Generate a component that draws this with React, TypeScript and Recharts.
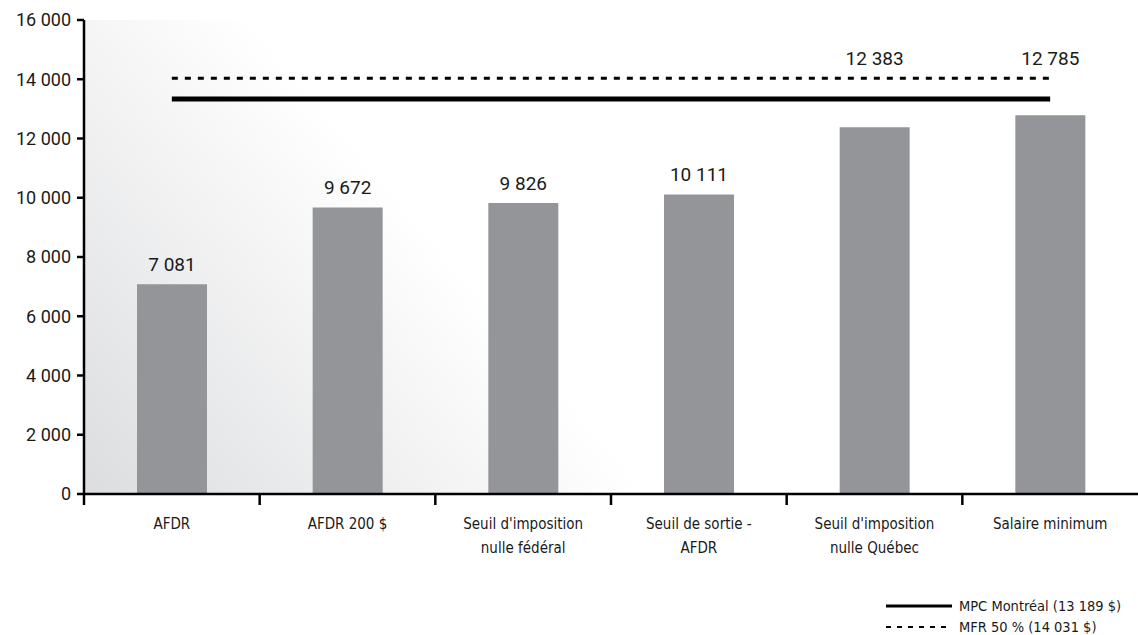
import React from "react";
import {
	ComposedChart,
	Bar,
	Line,
	XAxis,
	YAxis,
	CartesianGrid,
	LabelList,
} from "recharts";

const CATEGORIES = [
	["AFDR"],
	["AFDR 200 $"],
	["Seuil d'imposition", "nulle fédéral"],
	["Seuil de sortie -", "AFDR"],
	["Seuil d'imposition", "nulle Québec"],
	["Salaire minimum"],
];
const INCOME = [7081, 9672, 9826, 10111, 12383, 12785];
const MPC = [13330, 13330, 13330, 13330, 13330, 13330];
const MFR = [14031, 14031, 14031, 14031, 14031, 14031];
const Y_TICKS = [0, 2000, 4000, 6000, 8000, 10000, 12000, 14000, 16000];
// bars whose label sits above the reference lines, at this level
const LABEL_TOP = 14470;

const LEGEND = [
	{ label: "MPC Montréal (13 189 $)", dash: undefined, width: 3 },
	{ label: "MFR 50 % (14 031 $)", dash: "5 6", width: 2 },
];

const W = 1138;
const H = 635;
const Y_W = 84;
const STEP = (W - Y_W) / CATEGORIES.length;

const narrow = "'Liberation Sans Narrow', 'DejaVu Sans Condensed', 'Open Sans', sans-serif";
const numFont = "Roboto, 'Liberation Sans', sans-serif";

const data = CATEGORIES.map((c, i) => ({
	name: c.join(" "),
	lines: c,
	income: INCOME[i],
	mpc: MPC[i],
	mfr: MFR[i],
}));

function fmt(v: number) {
	return String(v).replace(/\B(?=(\d{3})+(?!\d))/g, " ");
}

function XTick(props: any) {
	const { x, y, payload, index } = props;
	const lines = data[index]?.lines ?? [payload.value];
	return (
		<g>
			<line x1={x - STEP / 2} x2={x - STEP / 2} y1={y - 8} y2={y + 3} stroke="#000" strokeWidth={2.5} />
			{lines.map((t: string, i: number) => (
				<text
					key={i}
					x={x}
					y={y + 27 + i * 24}
					textAnchor="middle"
					fontFamily={narrow}
					fontSize={15}
					fill="#1a1a1a"
				>
					{t}
				</text>
			))}
		</g>
	);
}

function ValueLabel(props: any) {
	const { x, y, width, height, value } = props;
	let ty = y - 13;
	if (value > 12000) {
		const perUnit = height / value;
		ty = y + height - LABEL_TOP * perUnit;
	}
	return (
		<text
			x={x + width / 2}
			y={ty}
			textAnchor="middle"
			fontFamily={numFont}
			fontSize={19}
			fill="#1a1a1a"
		>
			{fmt(value)}
		</text>
	);
}

export default function App() {
	return (
		<div style={{ position: "absolute", left: 0, top: 0, width: W, height: H, background: "#fff" }}>
			<ComposedChart
				width={W}
				height={H}
				data={data}
				margin={{ top: 20, right: 0, left: 0, bottom: 0 }}
				barCategoryGap={0}
			>
				<defs>
					<linearGradient id="bgGrad" gradientUnits="userSpaceOnUse" x1={84} y1={494} x2={414} y2={215}>
						<stop offset="0%" stopColor="#dcdddf" />
						<stop offset="100%" stopColor="#ffffff" />
					</linearGradient>
				</defs>
				<CartesianGrid horizontal={false} vertical={false} fill="url(#bgGrad)" stroke="none" />
				<XAxis
					dataKey="name"
					height={141}
					axisLine={{ stroke: "#000", strokeWidth: 2.5 }}
					tickLine={false}
					tick={<XTick />}
					interval={0}
				/>
				<YAxis
					width={Y_W}
					domain={[0, 16000]}
					ticks={Y_TICKS}
					tickFormatter={fmt}
					axisLine={{ stroke: "#000", strokeWidth: 2.5 }}
					tickLine={{ stroke: "#000", strokeWidth: 2.5 }}
					tickSize={7}
					tickMargin={6}
					tick={{ fontFamily: numFont, fontSize: 18, fill: "#1a1a1a" }}
				/>
				<Bar dataKey="income" barSize={70} fill="#939598" isAnimationActive={false}>
					<LabelList dataKey="income" content={<ValueLabel />} />
				</Bar>
				<Line
					dataKey="mfr"
					stroke="#000"
					strokeWidth={3}
					strokeDasharray="6 7"
					dot={false}
					activeDot={false}
					isAnimationActive={false}
				/>
				<Line
					dataKey="mpc"
					stroke="#000"
					strokeWidth={5}
					dot={false}
					activeDot={false}
					isAnimationActive={false}
				/>
			</ComposedChart>
			<div style={{ position: "absolute", left: 886, top: 595, fontFamily: narrow, fontSize: 14.5, color: "#1a1a1a" }}>
				{LEGEND.map((l) => (
					<div key={l.label} style={{ display: "flex", alignItems: "center", height: 21 }}>
						<svg width={66} height={6} style={{ marginRight: 7 }}>
							<line x1={0} x2={66} y1={3} y2={3} stroke="#000" strokeWidth={l.width} strokeDasharray={l.dash} />
						</svg>
						<span>{l.label}</span>
					</div>
				))}
			</div>
		</div>
	);
}
